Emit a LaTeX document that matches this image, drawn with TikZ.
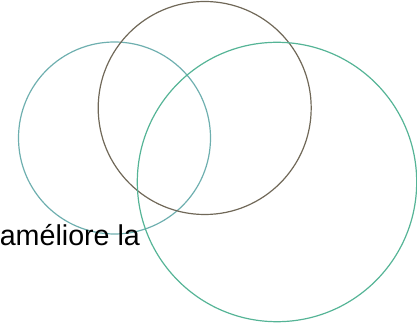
\documentclass[tikz,border=0pt]{standalone}
\usepackage{fontspec}
\setmainfont{Liberation Sans}
\usepackage{tikz}
\usepackage{xcolor}
\definecolor{cercleA}{RGB}{110,175,175}
\definecolor{cercleB}{RGB}{112,104,88}
\definecolor{cercleC}{RGB}{85,180,150}
\tikzset{
    anneau/.style={thick, line width=0.9pt},
    legende/.style={font=\fontsize{21.5}{25}\selectfont, inner sep=0pt, anchor=base west}
}
\begin{document}
\begin{tikzpicture}[x=0.75pt, y=-0.75pt]
    \useasboundingbox (0,0) rectangle (417,323);
    \draw[anneau, draw=cercleA] (114.5,138) circle[radius=96];
    \draw[anneau, draw=cercleB] (204.7,108) circle[radius=106.5];
    \draw[anneau, draw=cercleC] (277,182) circle[radius=139.7];
    \node[legende] (texte) at (-0.5,245.5) {améliore la};
\end{tikzpicture}
\end{document}
